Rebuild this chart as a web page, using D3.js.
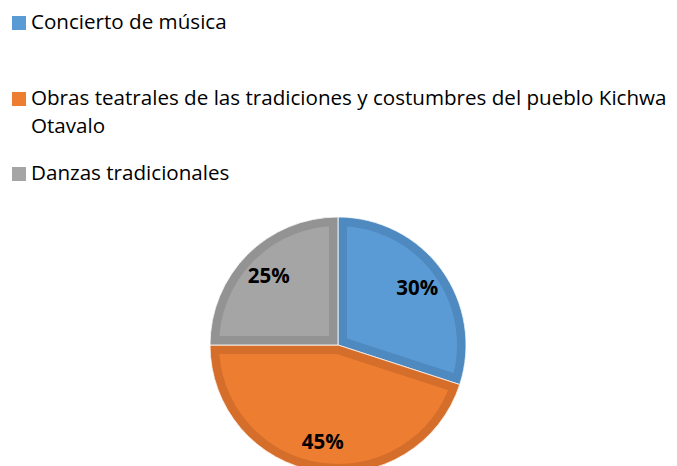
<!DOCTYPE html>
<html><head><meta charset="utf-8">
<script src="https://cdn.jsdelivr.net/npm/d3@7"></script>
<style>html,body{margin:0;padding:0;background:#fff;overflow:hidden}</style>
</head><body>
<svg id="c" width="677" height="466"></svg>
<script>
const categories = ["Concierto de música", "Obras teatrales de las tradiciones y costumbres del pueblo Kichwa Otavalo", "Danzas tradicionales"];
const legendLines = [["Concierto de música"], ["Obras teatrales de las tradiciones y costumbres del pueblo Kichwa", "Otavalo"], ["Danzas tradicionales"]];
const values = [30, 45, 25];
const labels = ["30%", "45%", "25%"];
const fills = ["#5B9BD5", "#ED7D31", "#A5A5A5"];
const borders = ["#4E89BF", "#D46E2A", "#939393"];

const svg = d3.select("#c");
const font = "'Open Sans', sans-serif";

// Legend
const legendY = [29, 105, 180];
const lg = svg.append("g");
legendLines.forEach((lines, i) => {
  lg.append("rect").attr("x", 12).attr("y", legendY[i] - 13).attr("width", 14).attr("height", 14).attr("fill", fills[i]);
  lines.forEach((t, j) => {
    lg.append("text").attr("x", 31).attr("y", legendY[i] + j * 28)
      .attr("font-family", font).attr("font-size", 20.6).attr("fill", "#000").text(t);
  });
});

// Pie
const cx = 338, cy = 345, r = 128;
const pie = d3.pie().sort(null).value(d => d)(values);
const arc = d3.arc().innerRadius(0).outerRadius(r);
const g = svg.append("g").attr("transform", `translate(${cx},${cy})`);
const defs = svg.append("defs");
pie.forEach((p, i) => {
  defs.append("clipPath").attr("id", "cl" + i).append("path").attr("d", arc(p));
  g.append("path").attr("d", arc(p)).attr("fill", fills[i]);
  g.append("path").attr("d", arc(p)).attr("fill", "none").attr("stroke", borders[i])
    .attr("stroke-width", 18).attr("stroke-linejoin", "miter").attr("clip-path", `url(#cl${i})`);
  g.append("path").attr("d", arc(p)).attr("fill", "none").attr("stroke", "#fff").attr("stroke-width", 0.8);
});
const labelArc = d3.arc().innerRadius(98).outerRadius(98);
pie.forEach((p, i) => {
  const [x, y] = labelArc.centroid(p);
  g.append("text").attr("x", x).attr("y", y).attr("dy", "0.36em").attr("text-anchor", "middle")
    .attr("font-family", font).attr("font-weight", "bold").attr("font-size", 20.5).attr("fill", "#000").text(labels[i]);
});
</script>
</body></html>
